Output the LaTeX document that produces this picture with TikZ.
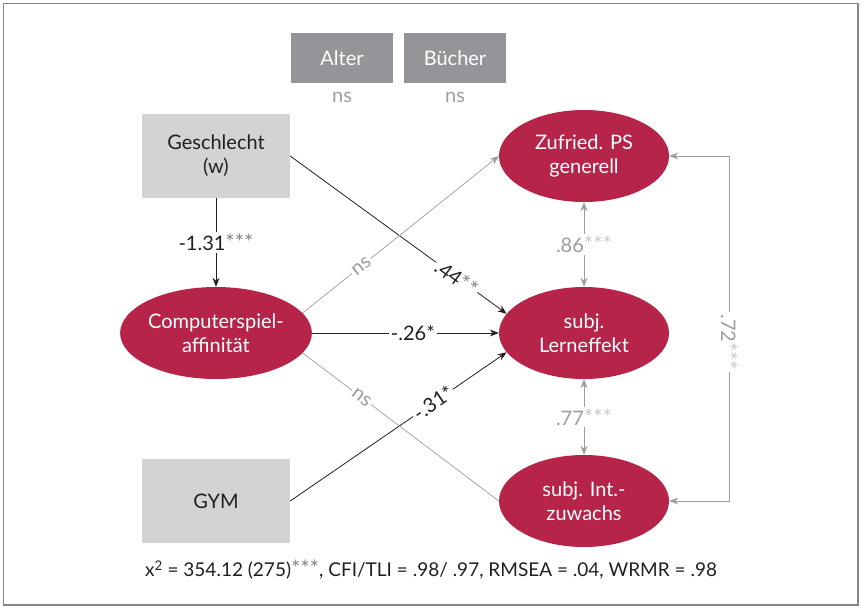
\documentclass[tikz,border=0pt]{standalone}
\usepackage{fontspec}
\setmainfont{Lato}
\usepackage{tikz}
\usetikzlibrary{arrows.meta,positioning,shapes.geometric,calc}
\usepackage{xcolor}
\definecolor{psred}{HTML}{B6244A}
\definecolor{boxdark}{HTML}{939598}
\definecolor{boxlight}{HTML}{D1D3D4}
\definecolor{linegray}{HTML}{9D9D9D}
\definecolor{textdark}{HTML}{231F20}
\definecolor{framegray}{HTML}{858585}
\newcommand{\sigstars}[1]{{\color{.!55}\fontsize{22}{22}\selectfont#1}}

\begin{document}
\begin{tikzpicture}[x=1pt, y=-1pt,
    font=\fontsize{20}{24}\selectfont,
    latent/.style={ellipse, fill=psred, text=white, minimum width=170pt,
                   minimum height=92pt, align=center, inner sep=0pt},
    obsbox/.style={rectangle, fill=boxlight, text=textdark, minimum width=148pt,
                   minimum height=84pt, align=center},
    ctrlbox/.style={rectangle, fill=boxdark, text=white, minimum width=102pt,
                    minimum height=50pt},
    regpath/.style={draw=textdark, line width=0.8pt, -{Stealth[length=9pt,width=7pt]}},
    nspath/.style={draw=linegray, line width=0.7pt},
    corrpath/.style={draw=linegray, line width=0.8pt,
                     {Stealth[length=9pt,width=7pt]}-{Stealth[length=9pt,width=7pt]}},
    lbl/.style={fill=white, inner sep=2pt, text=textdark},
    nslbl/.style={fill=white, inner sep=2pt, text=linegray}]

\useasboundingbox (0,0) rectangle (861,607);
\draw[framegray, line width=1.6pt] (3.5,3.5) rectangle (858,605);

% controls
\node[ctrlbox] (alter) at (342,58) {Alter};
\node[ctrlbox] (buecher) at (455,58) {Bücher};
\node[text=linegray, below=5pt of alter] (nsalter) {ns};
\node[text=linegray, below=5pt of buecher] (nsbuecher) {ns};

% exogenous
\node[obsbox] (geschl) at (216,156) {Geschlecht\\(w)};
\node[obsbox] (gym) at (216,501) {GYM};
\node[latent] (comp) at (216,333) {Computerspiel-\\affinität};

% outcomes
\node[latent] (zufried) at (584,156) {Zufried. PS\\generell};
\node[latent] (lern) at (584,333) {subj.\\Lerneffekt};
\node[latent] (inter) at (584,501) {subj. Int.-\\zuwachs};

% paths
\draw[regpath] (geschl) -- node[lbl] {-1.31\sigstars{***}} (comp);
\draw[regpath] (geschl.east) -- node[lbl, sloped, pos=0.77] {.44\sigstars{**}} (lern.166);
\draw[regpath] (comp) -- node[lbl, pos=0.54] {-.26*} (lern);
\draw[regpath] (gym.east) -- node[lbl, sloped, pos=0.66] {-.31*} (lern.194);
\draw[nspath, -{Stealth[length=9pt,width=7pt]}] (comp.13) -- node[nslbl, sloped, pos=0.3] {ns} (zufried.west);
\draw[nspath] (comp.347) -- node[nslbl, sloped, pos=0.3] {ns} (inter.west);

% correlations
\draw[corrpath] (zufried) -- node[nslbl] {.86\sigstars{***}} (lern);
\draw[corrpath] (lern) -- node[nslbl] {.77\sigstars{***}} (inter);
\draw[corrpath] (zufried.east) -- ++(60,0) |- node[nslbl, rotate=-90, pos=0.27] {.72\sigstars{***}} (inter.east);

% fit
\node[text=textdark, font=\fontsize{19}{23}\selectfont] (fit) at (431,570) {x\textsuperscript{2} = 354.12 (275)\sigstars{***}, CFI/TLI = .98/ .97, RMSEA = .04, WRMR = .98};
\end{tikzpicture}
\end{document}
